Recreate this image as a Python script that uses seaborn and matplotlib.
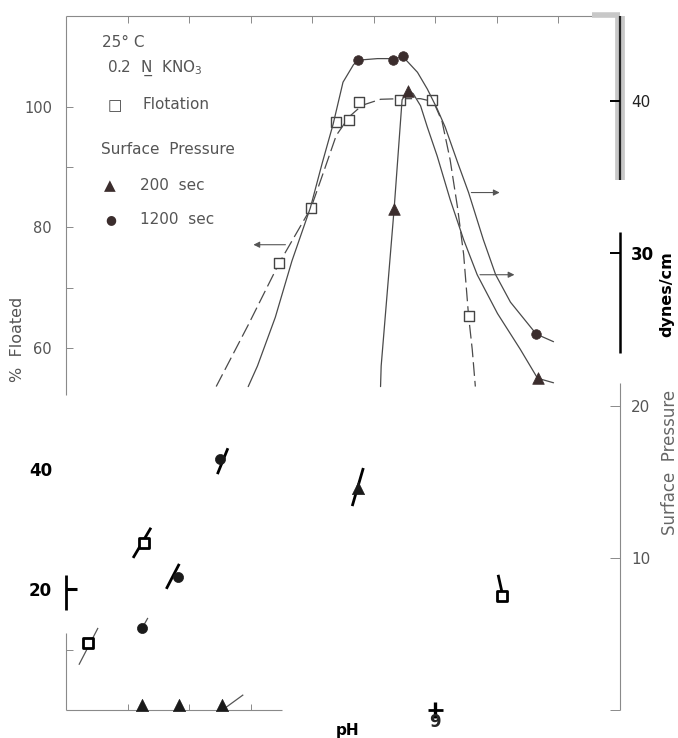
import matplotlib
matplotlib.use("Agg")
import matplotlib.pyplot as plt
import matplotlib.transforms as mtransforms
import pandas as pd
import seaborn as sns

# measured points (pH, % floated / dynes per cm)
flot_ph = [3.36, 4.27, 6.46, 6.98, 7.39, 7.60, 7.76, 8.43, 8.95, 9.54, 10.09]
flot_pct = [11.1, 27.7, 74.0, 83.2, 97.5, 97.8, 100.8, 101.0, 101.0, 65.3, 18.9]

p1200_ph = [4.24, 4.82, 5.50, 7.75, 8.32, 8.48, 10.64]
p1200_dyn = [5.4, 8.75, 16.5, 42.7, 42.7, 43.0, 24.7]

p200_ph = [4.24, 4.84, 5.54, 7.75, 8.33, 8.56, 10.66]
p200_dyn = [0.3, 0.3, 0.3, 14.6, 32.9, 40.7, 21.8]

# hand drawn curves, traced off the upper (intact) part of the scan
flot_curve_ph = [5.44, 5.96, 6.46, 6.98, 7.21, 7.39, 7.60, 7.81, 8.11, 8.43, 8.76,
                 8.97, 9.11, 9.24, 9.36, 9.46, 9.54, 9.60, 9.65]
flot_curve_pct = [53.6, 63.8, 74.0, 83.2, 89.9, 95.2, 98.3, 100.2, 101.2, 101.3, 101.3,
                  100.8, 97.5, 91.2, 83.3, 75.5, 65.3, 59.7, 53.6]

c1200_ph = [5.96, 6.11, 6.40, 6.67, 6.97, 7.16, 7.34, 7.50, 7.67, 7.75, 8.06, 8.32,
            8.48, 8.71, 8.87, 9.03, 9.16, 9.36, 9.54, 9.78, 9.98, 10.22, 10.64, 10.92]
c1200_dyn = [21.25, 22.6, 25.8, 29.5, 33.0, 35.9, 38.5, 41.25, 42.4, 42.7, 42.8, 42.8,
             42.9, 41.9, 40.8, 39.5, 38.3, 36.0, 34.0, 30.9, 28.6, 26.8, 24.7, 24.2]

c200_ph = [8.11, 8.12, 8.33, 8.46, 8.56, 8.64, 8.76, 8.87, 9.03, 9.24, 9.46, 9.68,
           10.01, 10.38, 10.66, 10.92]
c200_dyn = [21.25, 22.6, 32.9, 40.1, 40.7, 40.5, 39.7, 38.3, 36.4, 33.55, 30.9, 28.6,
            26.05, 23.7, 21.8, 21.5]

# short bits of curve surviving in the damaged lower half
flot_pieces = [[(3.21, 7.5), (3.52, 13.6)], [(4.09, 25.2), (4.38, 30.2)],
               [(10.02, 22.4), (10.09, 19.2)]]
p1200_pieces = [[(4.24, 5.4), (4.33, 6.05)], [(4.63, 7.96), (4.84, 9.6)],
                [(5.46, 15.5), (5.63, 17.2)]]
p200_pieces = [[(5.54, 0.0), (5.88, 1.0)], [(7.65, 13.4), (7.83, 15.9)]]

left_ticks = [20, 40, 60, 80, 100]
right_ticks = [0, 10, 20, 30, 40]

sns.set_theme(style="white")
plt.rcParams["font.family"] = ["DejaVu Sans"]
plt.rcParams["mathtext.fontset"] = "dejavusans"

LINE = "#4a4a4a"
FILL = "#3b2d2d"
GREY = "#8a8a8a"
SOFT = "#555555"
CUT_LEFT = 52.0
CUT_RIGHT = CUT_LEFT * 45.6 / 115

fig = plt.figure(figsize=(6.78, 7.38), dpi=100)
ax = fig.add_axes([66 / 678, 28 / 738, 554 / 678, 694 / 738])
ax2 = ax.twinx()
ax.set_xlim(3, 12)
ax.set_ylim(0, 115)
ax2.set_ylim(0, 45.6)
for a in (ax, ax2):
    for s in a.spines.values():
        s.set_visible(False)

# curves
sns.lineplot(x=flot_curve_ph, y=flot_curve_pct, ax=ax, sort=False, estimator=None,
             color=LINE, lw=0.9, linestyle=(0, (11, 4)))
sns.lineplot(x=c1200_ph, y=c1200_dyn, ax=ax2, sort=False, estimator=None,
             color=LINE, lw=0.9)
sns.lineplot(x=c200_ph, y=c200_dyn, ax=ax2, sort=False, estimator=None,
             color=LINE, lw=0.9)

bold_flags = {"flot": [False, True, True], "p1200": [False, True, True], "p200": [False, True]}
for target, pieces, flags in ((ax, flot_pieces, bold_flags["flot"]),
                              (ax2, p1200_pieces, bold_flags["p1200"]),
                              (ax2, p200_pieces, bold_flags["p200"])):
    for seg, bold in zip(pieces, flags):
        xs, ys = zip(*seg)
        target.plot(xs, ys, color="black" if bold else SOFT, lw=2.0 if bold else 0.9,
                    solid_capstyle="butt", clip_on=False)

# markers
flot = pd.DataFrame({"ph": flot_ph, "v": flot_pct})
s1200 = pd.DataFrame({"ph": p1200_ph, "v": p1200_dyn})
s200 = pd.DataFrame({"ph": p200_ph, "v": p200_dyn})

up = flot[flot.v >= CUT_LEFT]
lo = flot[flot.v < CUT_LEFT]
sns.scatterplot(data=up, x="ph", y="v", ax=ax, marker="s", s=62, color="white",
                edgecolor="#444444", linewidth=1.0, zorder=5)
sns.scatterplot(data=lo, x="ph", y="v", ax=ax, marker="s", s=62, color="white",
                edgecolor="black", linewidth=2.0, zorder=5)

for df, mk, sz in ((s1200, "o", 48), (s200, "^", 70)):
    u = df[df.v >= CUT_RIGHT]
    l = df[df.v < CUT_RIGHT]
    sns.scatterplot(data=u, x="ph", y="v", ax=ax2, marker=mk, s=sz, color=FILL,
                    edgecolor=FILL, linewidth=0.5, zorder=5, clip_on=False)
    sns.scatterplot(data=l, x="ph", y="v", ax=ax2, marker=mk, s=sz * 1.1, color="#1a1a1a",
                    edgecolor="#1a1a1a", linewidth=0.5, zorder=5, clip_on=False)

for a in (ax, ax2):
    a.set_xlabel("")
    a.set_ylabel("")

# arrows telling which axis belongs to which curve
arr = dict(arrowstyle="-|>", color=SOFT, lw=0.8, mutation_scale=9)
ax.annotate("", xy=(6.00, 77.1), xytext=(6.61, 77.1), arrowprops=arr)
ax2.annotate("", xy=(10.09, 34.0), xytext=(9.54, 34.0), arrowprops=arr)
ax2.annotate("", xy=(10.33, 28.6), xytext=(9.68, 28.6), arrowprops=arr)

# frame, broken as in the scan
T = ax.transAxes
kw = dict(transform=T, clip_on=False, solid_capstyle="butt")
ax.plot([0, 1], [1, 1], color=GREY, lw=0.8, **kw)
ax.plot([0.95, 1.0], [1.002, 1.002], color="#c8c8c8", lw=4, **kw)
ax.plot([0, 0], [1, 0.454], color=GREY, lw=0.8, **kw)
ax.plot([0, 0], [0.1945, 0.1441], color="black", lw=2.0, **kw)
ax.plot([0, 0], [0.111, 0], color=GREY, lw=0.8, **kw)
ax.plot([0, 0.39], [0, 0], color=GREY, lw=0.8, **kw)
ax.plot([0.654, 0.681], [0, 0], color="black", lw=2.0, **kw)
ax.plot([1, 1], [1, 0.7637], color="#c8c8c8", lw=7, **kw)
ax.plot([1, 1], [1, 0.7637], color="#222222", lw=1.6, **kw)
ax.plot([1, 1], [0.6888, 0.5144], color="black", lw=1.8, **kw)
ax.plot([1, 1], [0.4712, 0], color=GREY, lw=0.8, **kw)

# x ticks
ax.set_xticks([4, 5, 6])
ax.set_xticklabels([])
ax.tick_params(axis="x", direction="in", length=4, width=0.7, color=GREY,
               bottom=True, top=False)
top = ax.secondary_xaxis("top")
top.set_xticks(range(4, 12))
top.set_xticklabels([])
top.tick_params(direction="in", length=5, width=0.7, color=GREY)
for s in top.spines.values():
    s.set_visible(False)
bot = ax.secondary_xaxis("bottom")
bot.set_xticks([9])
bot.set_xticklabels(["9"], fontsize=12, fontweight="bold")
bot.tick_params(direction="inout", length=12, width=2.4, color="black", pad=-4)
for s in bot.spines.values():
    s.set_visible(False)

# left ticks
ax.set_yticks(left_ticks)
ax.set_yticks([10, 70, 90], minor=True)
ax.set_yticklabels([str(t) for t in left_ticks])
ax.tick_params(axis="y", which="both", direction="in", length=5, width=0.7,
               color=GREY, labelsize=10.5, labelcolor=SOFT, pad=10, left=True)
ticks = ax.yaxis.get_major_ticks()
ticks[1].tick1line.set_visible(False)
ticks[0].tick1line.set_markeredgewidth(2.2)
ticks[0].tick1line.set_markeredgecolor("black")
ticks[0].tick1line.set_markersize(8)
for lab in ax.get_yticklabels()[:2]:
    lab.set_fontweight("bold")
    lab.set_color("black")
    lab.set_fontsize(12)

# right ticks
ax2.set_yticks(right_ticks)
ax2.set_yticklabels(["", "10", "20", "30", "40"])
ax2.tick_params(axis="y", direction="in", length=7, width=0.7, color=GREY,
                labelsize=11, labelcolor=SOFT, pad=8)
rt = ax2.yaxis.get_major_ticks()
for t in rt[3:]:
    t.tick1line.set_markeredgecolor("black")
    t.tick2line.set_markeredgecolor("black")
    t.tick2line.set_markeredgewidth(1.4)
labs = ax2.get_yticklabels()
labs[3].set_fontweight("bold")
labs[3].set_color("black")
labs[3].set_fontsize(12)
labs[4].set_color("#222222")

# axis titles
ax.text(7.57, -0.029, "pH", transform=ax.get_xaxis_transform(), ha="center",
        va="center", fontsize=11, fontweight="bold", color="black")
ax.text(-0.087, 61.4, "%  Floated", transform=mtransforms.blended_transform_factory(ax.transAxes, ax.transData),
        rotation=90, ha="center", va="center", fontsize=11.5, color=SOFT)
rtr = mtransforms.blended_transform_factory(ax2.transAxes, ax2.transData)
ax2.text(1.09, 16.25, "Surface  Pressure", transform=rtr, rotation=90, ha="center",
         va="center", fontsize=12, color="#666666")
ax2.text(1.084, 27.3, "dynes/cm", transform=rtr, rotation=90, ha="center",
         va="center", fontsize=11.5, fontweight="bold", color="black")

# key block in the upper left
tc = dict(fontsize=11, color=SOFT, va="center", ha="left")
ax.text(3.59, 110.6, "25\u00b0 C", **tc)
ax.text(3.67, 106.4, "0.2  N\u0332  KNO$_3$", **tc)
ax.text(3.67, 100.2, "\u25a1", fontsize=11, color="#444444", va="center", ha="left")
ax.text(4.25, 100.3, "Flotation", **tc)
ax.text(3.57, 92.9, "Surface  Pressure", **tc)
ax.text(3.62, 86.9, "\u25b2", fontsize=11, color=FILL, va="center", ha="left")
ax.text(4.20, 86.9, "200  sec", **tc)
ax.text(3.64, 81.3, "\u25cf", fontsize=9, color=FILL, va="center", ha="left")
ax.text(4.20, 81.3, "1200  sec", **tc)

fig.savefig("out.png", dpi=100)
